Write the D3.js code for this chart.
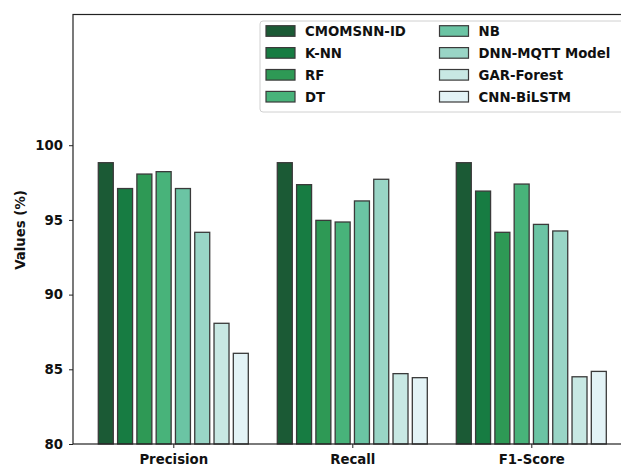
<!DOCTYPE html>
<html>
<head>
<meta charset="utf-8">
<script src="https://cdn.jsdelivr.net/npm/d3@7"></script>
<style>
  html, body { margin: 0; padding: 0; background: #fff; }
  svg text { font-family: "DejaVu Sans", sans-serif; font-weight: bold; fill: #111; }
</style>
</head>
<body>
<svg id="chart" width="621" height="466"></svg>
<script>
// Metric groups along the x axis
const metrics = ["Precision", "Recall", "F1-Score"];

// Compared models (legend order)
const models = ["CMOMSNN-ID", "K-NN", "RF", "DT", "NB", "DNN-MQTT Model", "GAR-Forest", "CNN-BiLSTM"];

// Scores per model, in metric order: Precision, Recall, F1-Score
const cmomsnnId  = [98.83, 98.83, 98.83];
const knn        = [97.10, 97.36, 96.93];
const rf         = [98.07, 94.97, 94.17];
const dt         = [98.23, 94.86, 97.40];
const nb         = [97.10, 96.27, 94.70];
const dnnMqtt    = [94.17, 97.72, 94.26];
const garForest  = [88.08, 84.71, 84.50];
const cnnBiLstm  = [86.07, 84.44, 84.86];

const seriesValues = [cmomsnnId, knn, rf, dt, nb, dnnMqtt, garForest, cnnBiLstm];

const colors = ["#1b5a35", "#177c42", "#2e9955", "#48b37a", "#6bc4a4", "#99d5c6", "#c8e8e3", "#e3f3f6"];

const yTicks = [80, 85, 90, 95, 100];

const svg = d3.select("#chart");

// Plot area
const plotLeft = 73, plotTop = 14.5, plotBottom = 444;

const y = d3.scaleLinear().domain([80, 108.75]).range([plotBottom, plotTop]);
const x = d3.scaleLinear().domain([0, 1]).range([173.3, 352.3]);
const plotRight = x(2) + (x(0) - plotLeft);

const inner = d3.scaleBand().domain(models).range([-75, 75]).paddingInner(0.223).paddingOuter(0);

// Bars
const g = svg.append("g");
models.forEach((m, i) => {
  g.selectAll(null)
    .data(metrics.map((k, j) => ({ metric: j, value: seriesValues[i][j] })))
    .join("rect")
    .attr("x", d => x(d.metric) + inner(m))
    .attr("y", d => y(d.value))
    .attr("width", inner.bandwidth())
    .attr("height", d => y(80) - y(d.value))
    .attr("fill", colors[i])
    .attr("stroke", "#3a3a3a")
    .attr("stroke-width", 1.3);
});

// Frame (spines)
svg.append("rect")
  .attr("x", plotLeft).attr("y", plotTop)
  .attr("width", plotRight - plotLeft).attr("height", plotBottom - plotTop)
  .attr("fill", "none").attr("stroke", "#222").attr("stroke-width", 1.2);

// Y axis
const yAxis = d3.axisLeft(y).tickValues(yTicks).tickSize(4).tickPadding(6).tickFormat(d3.format("d"));
const ya = svg.append("g").attr("transform", `translate(${plotLeft},0)`).call(yAxis);
ya.select(".domain").remove();
ya.selectAll("line").attr("stroke", "#222");
ya.selectAll("text").style("font-size", "13.3px").style("font-weight", "bold").attr("fill", "#111");

// X axis
const xAxis = d3.axisBottom(x).tickValues([0, 1, 2]).tickSize(4).tickPadding(7).tickFormat(i => metrics[i]);
const xa = svg.append("g").attr("transform", `translate(0,${plotBottom})`).call(xAxis);
xa.select(".domain").remove();
xa.selectAll("line").attr("stroke", "#222");
xa.selectAll("text").style("font-size", "13.3px").style("font-weight", "bold").attr("fill", "#111");

// Y axis title
svg.append("text")
  .attr("transform", "translate(25,230) rotate(-90)")
  .attr("text-anchor", "middle")
  .style("font-size", "13.3px")
  .text("Values (%)");

// Legend
const lg = svg.append("g");
lg.append("rect")
  .attr("x", 260).attr("y", 21).attr("width", 380).attr("height", 91)
  .attr("rx", 3)
  .attr("fill", "#fff").attr("fill-opacity", 0.85)
  .attr("stroke", "#d0d0d0").attr("stroke-width", 1);

models.forEach((m, i) => {
  const col = Math.floor(i / 4), row = i % 4;
  const px = col === 0 ? 266 : 439.5;
  const cy = 31 + row * 21.9;
  lg.append("rect")
    .attr("x", px).attr("y", cy - 5.3)
    .attr("width", 29).attr("height", 10.6)
    .attr("fill", colors[i])
    .attr("stroke", "#3a3a3a").attr("stroke-width", 1.2);
  lg.append("text")
    .attr("x", px + 39).attr("y", cy + 4.8)
    .style("font-size", "13.3px")
    .text(m);
});
</script>
</body>
</html>
